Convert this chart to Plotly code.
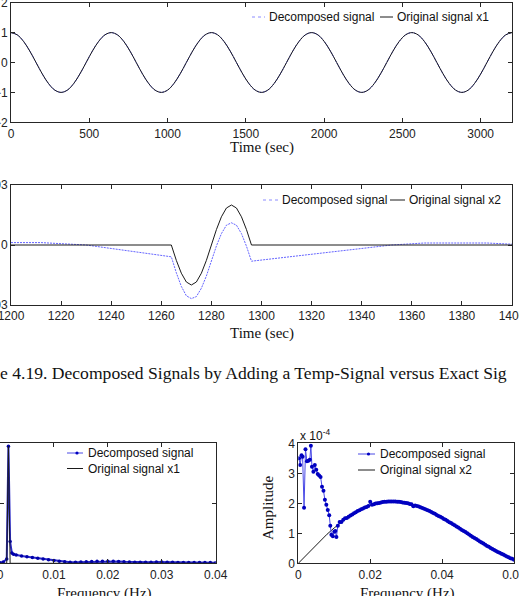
import plotly.graph_objects as go

W, H = 519, 596

# ---------------- data ----------------
# Panel 1: x1 time series (period ~640 s), sampled every 40 s
time_x1 = list(range(0, 3201, 40))
original_x1 = [
    1.0, 0.924, 0.707, 0.383, 0.0, -0.383, -0.707, -0.924, -1.0, -0.924, -0.707, -0.383, 0.0, 0.383, 0.707, 0.924,
    1.0, 0.924, 0.707, 0.383, 0.0, -0.383, -0.707, -0.924, -1.0, -0.924, -0.707, -0.383, 0.0, 0.383, 0.707, 0.924,
    1.0, 0.924, 0.707, 0.383, 0.0, -0.383, -0.707, -0.924, -1.0, -0.924, -0.707, -0.383, 0.0, 0.383, 0.707, 0.924,
    1.0, 0.924, 0.707, 0.383, 0.0, -0.383, -0.707, -0.924, -1.0, -0.924, -0.707, -0.383, 0.0, 0.383, 0.707, 0.924,
    1.0, 0.924, 0.707, 0.383, 0.0, -0.383, -0.707, -0.924, -1.0, -0.924, -0.707, -0.383, 0.0, 0.383, 0.707, 0.924,
    1.0,
]
decomposed_x1 = list(original_x1)

# Panel 2: x2 time series (zoom 1200-1400 s)
time_x2_orig = [1200, 1264, 1266, 1268, 1270, 1272, 1274, 1276, 1278, 1280, 1282, 1284, 1286, 1288,
                1290, 1292, 1294, 1296, 1400]
original_x2 = [0.0, 0.0, -0.00077, -0.00141, -0.00185, -0.002, -0.00185, -0.00141, -0.00077, 0.0,
               0.00077, 0.00141, 0.00185, 0.002, 0.00185, 0.00141, 0.00077, 0.0, 0.0]
time_x2_dec = [1200, 1212, 1230, 1264, 1266, 1268, 1270, 1272, 1274, 1276, 1278, 1280, 1282, 1284,
               1286, 1288, 1290, 1292, 1294, 1296, 1352, 1365, 1390, 1400]
decomposed_x2 = [0.00012, 0.00012, 0.0, -0.00059, -0.00139, -0.00207, -0.00254, -0.00268, -0.00258,
                 -0.00216, -0.00155, -0.0008, -0.00005, 0.00057, 0.00099, 0.00111, 0.00099, 0.00057,
                 -0.00006, -0.00081, 0.0, 0.0001, 0.0001, 0.00004]

# Panel 3: spectrum of x1
freq_x1_orig = [0.0, 0.00125, 0.0015625, 0.001875, 0.04]
amp_x1_orig = [0.0, 0.0, 0.97, 0.0, 0.0]
freq_x1_dec = [0.0, 0.0006, 0.00125, 0.0015625, 0.001875, 0.0022, 0.0025, 0.003, 0.004, 0.005,
               0.006, 0.007, 0.008, 0.009, 0.010, 0.011, 0.012, 0.013, 0.014, 0.015, 0.016, 0.017,
               0.018, 0.019, 0.020, 0.021, 0.022, 0.023, 0.024, 0.025, 0.026, 0.027, 0.028, 0.029,
               0.030, 0.031, 0.032, 0.033, 0.034, 0.035, 0.036, 0.037, 0.038, 0.039, 0.040]
amp_x1_dec = [0.005, 0.01, 0.035, 0.97, 0.18, 0.085, 0.075, 0.068, 0.060, 0.054, 0.048, 0.042,
              0.036, 0.030, 0.024, 0.018, 0.012, 0.009, 0.009, 0.010, 0.012, 0.014, 0.016, 0.017,
              0.017, 0.016, 0.015, 0.013, 0.011, 0.009, 0.008, 0.008, 0.009, 0.010, 0.010, 0.009,
              0.008, 0.007, 0.006, 0.006, 0.006, 0.007, 0.007, 0.006, 0.005]

# Panel 4: spectrum of x2 (amplitude in units of 1e-4)
freq_x2_orig = [0.0, 0.002, 0.004, 0.006, 0.008, 0.010, 0.012, 0.014, 0.016, 0.018, 0.020, 0.022,
                0.024, 0.026, 0.028, 0.030, 0.032, 0.034, 0.036, 0.038, 0.040, 0.042, 0.044,
                0.046, 0.048, 0.050, 0.052, 0.054, 0.056, 0.058, 0.060]
amp_x2_orig = [0.0, 0.25, 0.50, 0.74, 0.97, 1.18, 1.38, 1.55, 1.70, 1.83, 1.93, 2.00, 2.04, 2.06,
               2.05, 2.01, 1.95, 1.87, 1.77, 1.65, 1.52, 1.37, 1.23, 1.08, 0.92, 0.77, 0.62, 0.48,
               0.35, 0.23, 0.12]
freq_x2_dec = [
    0.0002, 0.0005, 0.0009, 0.0012, 0.0016, 0.0020, 0.0024, 0.0028, 0.0032, 0.0035,
    0.0038, 0.0042, 0.0046, 0.0050, 0.0054, 0.0058, 0.0062, 0.0066, 0.0070, 0.0074,
    0.0078, 0.0082, 0.0086, 0.0089, 0.0092, 0.0096, 0.0100, 0.0103, 0.0106, 0.0110, 0.0115,
    0.0120, 0.0125, 0.0130, 0.0135, 0.0140, 0.0145, 0.0150, 0.0155, 0.0160, 0.0165,
    0.0170, 0.0175, 0.0180, 0.0185, 0.0190, 0.0195, 0.0200, 0.0205, 0.0210, 0.0215,
    0.0220, 0.0225, 0.0230, 0.0235, 0.0240, 0.0245, 0.0250, 0.0255, 0.0260, 0.0265,
    0.0270, 0.0275, 0.0280, 0.0285, 0.0290, 0.0295, 0.0300, 0.0305, 0.0310, 0.0315,
    0.0320, 0.0325, 0.0330, 0.0335, 0.0340, 0.0345, 0.0350, 0.0355, 0.0360, 0.0365,
    0.0370, 0.0375, 0.0380, 0.0385, 0.0390, 0.0395, 0.0400, 0.0405, 0.0410, 0.0415,
    0.0420, 0.0425, 0.0430, 0.0435, 0.0440, 0.0445, 0.0450, 0.0455, 0.0460, 0.0465,
    0.0470, 0.0475, 0.0480, 0.0485, 0.0490, 0.0495, 0.0500, 0.0505, 0.0510, 0.0515,
    0.0520, 0.0525, 0.0530, 0.0535, 0.0540, 0.0545, 0.0550, 0.0555, 0.0560, 0.0565,
    0.0570, 0.0575, 0.0580, 0.0585, 0.0590, 0.0595, 0.0600,
]
amp_x2_dec = [
    3.50, 3.28, 3.60, 3.55, 1.85, 3.80, 3.40, 3.42, 3.45, 3.92,
    3.22, 3.05, 3.28, 3.12, 2.98, 2.93, 2.88, 2.55, 2.42, 2.12,
    1.95, 1.78, 1.60, 1.25, 0.95, 0.90, 1.05, 1.08, 0.88, 1.25, 1.38,
    1.38, 1.45, 1.50, 1.51, 1.55, 1.59, 1.63, 1.67, 1.70, 1.74,
    1.77, 1.80, 1.83, 1.86, 1.88, 1.91, 2.05, 1.95, 1.97, 1.99,
    2.00, 2.01, 2.03, 2.04, 2.05, 2.05, 2.06, 2.06, 2.06, 2.06,
    2.06, 2.05, 2.05, 2.04, 2.03, 2.02, 2.01, 2.00, 1.98, 1.97,
    1.90, 1.93, 1.91, 1.89, 1.87, 1.84, 1.82, 1.79, 1.77, 1.74,
    1.71, 1.68, 1.65, 1.61, 1.58, 1.55, 1.52, 1.48, 1.45, 1.41,
    1.37, 1.34, 1.30, 1.27, 1.23, 1.19, 1.15, 1.11, 1.08, 1.04,
    1.00, 0.96, 0.92, 0.88, 0.84, 0.81, 0.77, 0.73, 0.69, 0.66,
    0.62, 0.58, 0.55, 0.51, 0.48, 0.44, 0.41, 0.38, 0.35, 0.32,
    0.29, 0.26, 0.23, 0.20, 0.17, 0.15, 0.12,
]

# Legend labels
label_dec = "Decomposed signal"
label_x1 = "Original signal x1"
label_x2 = "Original signal x2"

# ---------------- styling helpers ----------------
AX = "#262626"
SANS = "Liberation Sans, Arial, sans-serif"
SERIF = "Liberation Serif, Times New Roman, serif"
DEC_DOT = "#6464ff"
DEC_LINE = "#4a4ae6"
DEC_MARK = "#0000c0"
BLACK = "#1a1a1a"


def px_x(p):
    return p / W


def px_y(p):
    return 1 - p / H


def axis(**kw):
    base = dict(showline=True, mirror="ticks", ticks="inside", ticklen=4, tickwidth=1,
                linecolor=AX, linewidth=1, tickcolor=AX, showgrid=False, zeroline=False,
                automargin=False, ticklabeloverflow="allow",
                tickfont=dict(family=SANS, size=12, color="#222"))
    base.update(kw)
    return base


fig = go.Figure()

# Panel 1
fig.add_trace(go.Scatter(x=time_x1, y=decomposed_x1, mode="lines", name=label_dec,
                         line=dict(color=DEC_DOT, width=1, dash="2px,1px", shape="spline"),
                         xaxis="x", yaxis="y"))
fig.add_trace(go.Scatter(x=time_x1, y=original_x1, mode="lines", name=label_x1,
                         line=dict(color=BLACK, width=1, shape="spline"),
                         xaxis="x", yaxis="y"))
# Panel 2
fig.add_trace(go.Scatter(x=time_x2_dec, y=decomposed_x2, mode="lines", name=label_dec,
                         line=dict(color=DEC_DOT, width=1, dash="2px,1px"),
                         xaxis="x2", yaxis="y2"))
fig.add_trace(go.Scatter(x=time_x2_orig, y=original_x2, mode="lines", name=label_x2,
                         line=dict(color=BLACK, width=1),
                         xaxis="x2", yaxis="y2"))
# Panel 3
fig.add_trace(go.Scatter(x=freq_x1_dec, y=amp_x1_dec, mode="lines+markers", name=label_dec,
                         line=dict(color="#2a2ac8", width=2),
                         marker=dict(color="#0000aa", size=3.5, symbol="circle"),
                         xaxis="x3", yaxis="y3"))
fig.add_trace(go.Scatter(x=freq_x1_orig, y=amp_x1_orig, mode="lines", name=label_x1,
                         line=dict(color=BLACK, width=1),
                         xaxis="x3", yaxis="y3"))
# Panel 4
fig.add_trace(go.Scatter(x=freq_x2_orig, y=amp_x2_orig, mode="lines", name=label_x2,
                         line=dict(color=BLACK, width=1),
                         xaxis="x4", yaxis="y4"))
fig.add_trace(go.Scatter(x=freq_x2_dec, y=amp_x2_dec, mode="lines+markers", name=label_dec,
                         line=dict(color=DEC_LINE, width=1),
                         marker=dict(color=DEC_MARK, size=4, symbol="circle"),
                         xaxis="x4", yaxis="y4"))

fig.update_layout(
    width=W, height=H, autosize=False, template="none",
    paper_bgcolor="white", plot_bgcolor="white",
    margin=dict(l=0, r=0, t=0, b=0),
    showlegend=False,
    xaxis=axis(domain=[px_x(11), px_x(512)], range=[0, 3200], tickvals=[0, 500, 1000, 1500, 2000, 2500, 3000],
               anchor="y"),
    yaxis=axis(domain=[px_y(122.3), px_y(2.7)], range=[-2, 2], tickvals=[-2, -1, 0, 1, 2], anchor="x"),
    xaxis2=axis(domain=[px_x(11), px_x(512)], range=[1200, 1400],
                tickvals=[1200, 1220, 1240, 1260, 1280, 1300, 1320, 1340, 1360, 1380, 1400], anchor="y2"),
    yaxis2=axis(domain=[px_y(305), px_y(185)], range=[-0.003, 0.003], tickvals=[-0.003, 0, 0.003],
                ticktext=["-0.003", "0", "0.003"], anchor="x2"),
    xaxis3=axis(domain=[0, px_x(215.7)], range=[0, 0.04], tickvals=[0, 0.01, 0.02, 0.03, 0.04],
                ticktext=["0", "0.01", "0.02", "0.03", "0.04"], anchor="y3"),
    yaxis3=axis(domain=[px_y(563.3), px_y(442.7)], range=[0, 1], tickvals=[0, 0.5, 1],
                showticklabels=False, anchor="x3"),
    xaxis4=axis(domain=[px_x(298.3), px_x(514)], range=[0, 0.06], tickvals=[0, 0.02, 0.04, 0.06],
                ticktext=["0", "0.02", "0.04", "0.06"], anchor="y4"),
    yaxis4=axis(domain=[px_y(563.3), px_y(443.3)], range=[0, 4], tickvals=[0, 1, 2, 3, 4], anchor="x4"),
)

# ---- legends (keys drawn as small paper-space shapes, labels as text) ----
shapes = []
ann = []
legend_entries = [
    # (line x0, line x1, y, text x, label, color, dash, marker)
    (252, 265, 17, 268, label_dec, "#8c8cff", "dot", False),
    (380, 393, 17, 396, label_x1, BLACK, "solid", False),
    (263, 278, 200, 281, label_dec, "#8c8cff", "dot", False),
    (390, 405, 200, 408, label_x2, BLACK, "solid", False),
    (67, 83, 453, 87, label_dec, DEC_LINE, "solid", True),
    (67, 83, 468.5, 87, label_x1, BLACK, "solid", False),
    (358, 375, 454, 378.5, label_dec, DEC_LINE, "solid", True),
    (358, 375, 470, 378.5, label_x2, BLACK, "solid", False),
]
for x0, x1, y, tx, label, color, dash, marker in legend_entries:
    shapes.append(dict(type="line", xref="paper", yref="paper", x0=px_x(x0), x1=px_x(x1),
                       y0=px_y(y), y1=px_y(y), line=dict(color=color, width=1, dash=dash)))
    if marker:
        mx = (x0 + x1) / 2 + 2
        shapes.append(dict(type="circle", xref="paper", yref="paper",
                           x0=px_x(mx - 1.6), x1=px_x(mx + 1.6), y0=px_y(y + 1.6), y1=px_y(y - 1.6),
                           fillcolor=DEC_MARK, line=dict(width=0)))
    ann.append(dict(text=label, x=px_x(tx - 1), y=px_y(y), xanchor="left",
                    font=dict(family=SANS, size=12, color="#111")))

ann += [
    dict(text="Time (sec)", x=px_x(261.5), y=px_y(148), font=dict(family=SERIF, size=15, color="#111")),
    dict(text="Time (sec)", x=px_x(261.5), y=px_y(333), font=dict(family=SERIF, size=15, color="#111")),
    dict(text="e 4.19. Decomposed Signals by Adding a Temp-Signal versus Exact Sig",
         x=px_x(-2), y=px_y(373), xanchor="left",
         font=dict(family=SERIF, size=17.6, color="#111")),
    dict(text="Frequency (Hz)", x=px_x(104), y=px_y(593), font=dict(family=SERIF, size=15, color="#111")),
    dict(text="Frequency (Hz)", x=px_x(407), y=px_y(593), font=dict(family=SERIF, size=15, color="#111")),
    dict(text="Amplitude", x=px_x(268), y=px_y(508), textangle=-90,
         font=dict(family=SERIF, size=15, color="#111")),
    dict(text="x 10<sup>-4</sup>", x=px_x(297.5), y=px_y(435), xanchor="left",
         font=dict(family=SANS, size=12, color="#111")),
]
for a in ann:
    a.setdefault("xanchor", "center")
    a.update(xref="paper", yref="paper", showarrow=False, yanchor="middle")
fig.update_layout(annotations=ann, shapes=shapes)

fig.write_html("out.html")
